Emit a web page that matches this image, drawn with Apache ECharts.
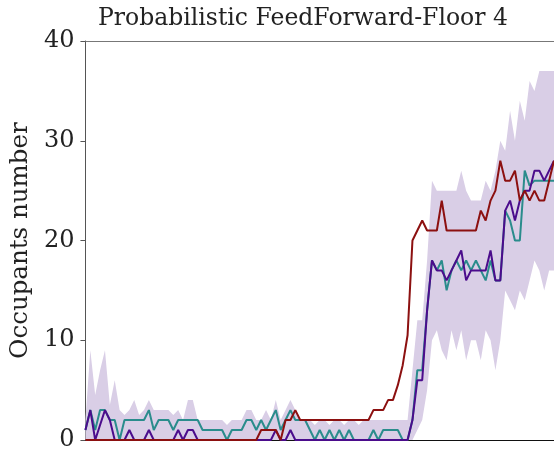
<!DOCTYPE html>
<html><head><meta charset="utf-8">
<script src="https://cdn.jsdelivr.net/npm/echarts@6/dist/echarts.min.js"></script>
<style>html,body{margin:0;padding:0;background:#fff}#c{width:554px;height:452px}</style>
</head><body><div id="c"></div>
<script>
// time steps (x index)
const steps = Array.from({length: 97}, (_, i) => i);

// Observed / predicted occupants
const redSeries = [
  0,0,0,0,0,0,0,0,0,0,0,0,0,0,0,0,0,0,0,0,0,0,0,0,0,0,0,0,0,0,0,0,0,0,0,0,
  1,1,1,1,
  0,
  2,2,3,2,
  2,2,2,2,2,2,2,2,2,2,2,2,2,2,
  3,3,3,4,4,5.5,7.5,10.5,20,21,22,21,21,21,24,21,21,21,21,21,21,21,23,22,24,25,28,26,26,27,24,25,24,25,24,24,26,28
];
const purpleSeries = [
  1,3,0,1.5,3,2,0,0,0,1,0,0,0,1,
  0,0,0,0,0,
  1,0,1,1,
  0,0,0,0,0,0,0,0,0,0,0,0,0,0,0,0,
  1,0,0,1,
  0,0,0,0,0,0,0,0,0,0,0,0,0,0,0,0,0,0,0,0,0,0,0,0,
  2,6,6,13,18,17,17,16,17,18,19,16,17,17,17,17,19,16,16,23,24,22,24,25,25,27,27,26,27,28
];
const tealSeries = [
  1,3,1,3,3,2,2,0,2,
  2,2,2,2,
  3,1,2,2,2,1,
  2,2,2,2,2,
  1,1,1,1,1,
  0,1,1,1,
  2,2,1,2,1,2,3,1,2,3,2,2,2,1,
  0,1,0,1,0,1,0,1,0,0,0,0,
  1,0,1,1,1,1,0,0,
  2,7,7,13,18,17,18,15,17,18,17,18,17,18,17,16,18,16,16,23,22,20,20,27,25.5,26,26,26,26,26
];
// Uncertainty band
const bandUpper = [
  2,9,4.5,7,9,3.5,6,3,2.5,3,4,2.5,3,4,
  3,3,3,3,2.5,3,2,4,4,
  2,2,2,2,2,2,1.5,2,2,2,
  3,3,2,2,3,2,4,2,3,4,3,2,
  2,2,1.5,2,2,1.5,2,2,1.5,2,2,1.5,2,2,2,2,2,2,2,2,2,2,
  7,12,12,18,26,25,25,25,25,25,27,25,24,24,24,26,25,27,30,29,33,30,34,32,36,35,37,37,37,37
];
const bandLower = [
  0,0,0,0,0,0,0,0,0,0,0,0,0,0,0,0,0,0,0,0,0,0,0,0,0,0,0,0,0,0,0,0,0,0,
  0,0,0,0,0,0,0,0,0,0,0,0,0,0,0,0,0,0,0,0,0,0,0,0,0,0,0,0,0,0,0,0,0,
  0,1,2,5,10,11,9,8,11,9,11,8,10,10,8,11,10,7,10,15,14,13,15,14,16,18,17,15,17,17
];
const yTicks = [0, 10, 20, 30, 40];

const bandSpan = bandUpper.map((u, i) => u - bandLower[i]);
const serif = 'DejaVu Serif';

const chart = echarts.init(document.getElementById('c'), null, {renderer: 'canvas'});
chart.setOption({
  animation: false,
  graphic: [{
    type: 'text', left: 98, top: 7,
    style: {text: 'Probabilistic FeedForward-Floor 4', fontFamily: serif, fontSize: 23.5, fill: '#222'}
  }],
  grid: {left: 84, right: 0, top: 41, bottom: 10},
  xAxis: [
    {type: 'category', data: steps, boundaryGap: false,
     axisLine: {lineStyle: {color: '#111', width: 1}}, axisTick: {show: false},
     axisLabel: {show: false}, splitLine: {show: false}},
    {type: 'category', data: steps, boundaryGap: false, position: 'top',
     axisLine: {lineStyle: {color: '#777', width: 1}}, axisTick: {show: false},
     axisLabel: {show: false}, splitLine: {show: false}}
  ],
  yAxis: {
    type: 'value', min: yTicks[0], max: yTicks[yTicks.length - 1], interval: 10,
    name: 'Occupants number', nameLocation: 'middle', nameGap: 51,
    nameTextStyle: {fontFamily: serif, fontSize: 24.5, color: '#222'},
    axisLine: {show: true, lineStyle: {color: '#555'}},
    axisTick: {show: true, length: 5, lineStyle: {color: '#555'}},
    axisLabel: {fontFamily: serif, fontSize: 24, color: '#222', margin: 11},
    splitLine: {show: false}
  },
  series: [
    {type: 'line', data: bandLower, stack: 'band', symbol: 'none', silent: true,
     lineStyle: {opacity: 0}},
    {type: 'line', data: bandSpan, stack: 'band', symbol: 'none', silent: true,
     lineStyle: {opacity: 0}, areaStyle: {color: '#d9cee6', opacity: 1}},
    {type: 'line', data: tealSeries, symbol: 'none', lineStyle: {color: '#2a8c8c', width: 2}},
    {type: 'line', data: purpleSeries, symbol: 'none', lineStyle: {color: '#4b0c8c', width: 2}},
    {type: 'line', data: redSeries, symbol: 'none', lineStyle: {color: '#8c1010', width: 2}}
  ]
});
</script>
</body></html>
